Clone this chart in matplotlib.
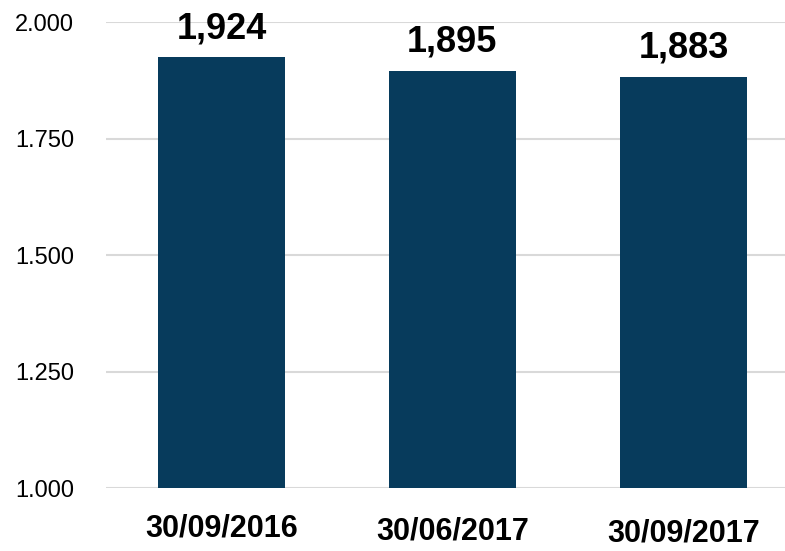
import matplotlib
matplotlib.use("Agg")
import matplotlib.pyplot as plt
from matplotlib.ticker import FuncFormatter

dates = ["30/09/2016", "30/06/2017", "30/09/2017"]
values = [1924, 1895, 1883]
label_drop = [40, 43, 45]  # pixels below the axis, staggered as in the original

plt.rcParams['font.family'] = ['Liberation Sans', 'DejaVu Sans']

fig = plt.figure(figsize=(7.85, 5.51), dpi=100)
ax = fig.add_axes([0.135, 0.1143, 0.865, 0.8457])

x = list(range(len(values)))
ax.bar(x, values, width=0.553, color='#073B5C', zorder=3)

ax.set_ylim(1000, 2000)
ax.set_xlim(-0.5, 2.44)
ax.set_yticks([1000, 1250, 1500, 1750, 2000])
ax.yaxis.set_major_formatter(FuncFormatter(lambda v, p: f"{v:,.0f}".replace(",", ".")))
ax.tick_params(axis='y', length=0, pad=23, labelsize=17)
ax.set_xticks([])
ax.grid(axis='y', color='#d9d9d9', linewidth=1.5, zorder=0)
for s in ax.spines.values():
    s.set_visible(False)

for xi, v in zip(x, values):
    ax.annotate(f"{v:,}", (xi, v), xytext=(0, 19), textcoords='offset pixels',
                ha='center', va='baseline', fontsize=26, fontweight='bold')

for xi, d, drop in zip(x, dates, label_drop):
    ax.annotate(d, (xi, 0), xycoords=('data', 'axes fraction'), xytext=(0, -drop),
                textcoords='offset pixels', ha='center', va='center', fontsize=22,
                fontweight='bold')

fig.savefig("out.png", dpi=100)
